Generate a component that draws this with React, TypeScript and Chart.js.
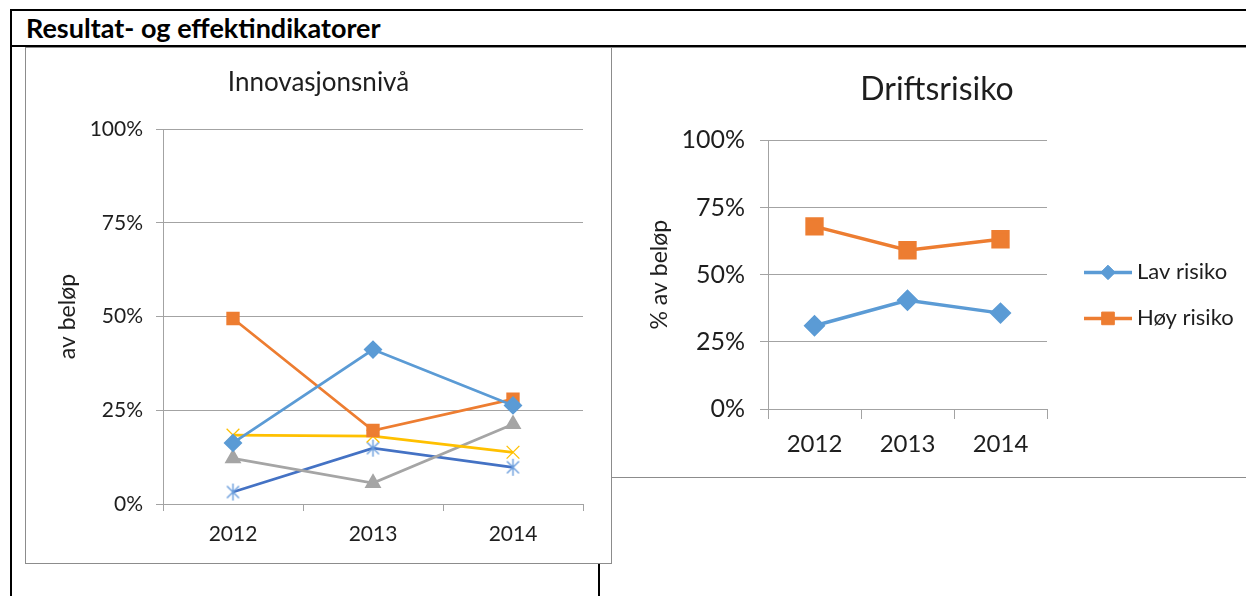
import React, { useEffect, useRef } from 'react';
import { Chart, registerables } from 'chart.js';
import { drawPoint } from 'chart.js/helpers';

Chart.register(...registerables);

const FONT = 'Lato, "Open Sans", "DejaVu Sans", sans-serif';
const TEXT = '#1e1e1e';
const GRID = '#a3a3a3';

// ---- data ----
const headerText = 'Resultat- og effektindikatorer';
const years = ['2012', '2013', '2014'];
const yMin = 0;
const yMax = 100;
const yStep = 25;

const innovTitle = 'Innovasjonsnivå';
const innovAxisTitle = 'av beløp';
const innovSeriesNames = ['Serie 1', 'Serie 2', 'Serie 3', 'Serie 4', 'Serie 5'];
const innovLightBlue = [16.3, 41.2, 26.3];
const innovOrange = [49.5, 19.6, 28.0];
const innovYellow = [18.4, 18.1, 13.8];
const innovGray = [12.2, 5.6, 21.3];
const innovDarkBlue = [3.2, 14.9, 9.8];

const riskTitle = 'Driftsrisiko';
const riskAxisTitle = '% av beløp';
const riskLabels = ['Lav risiko', 'Høy risiko'];
const lavRisiko = [31.0, 40.5, 35.7];
const hoyRisiko = [68.0, 59.1, 63.2];

const pct = (v: any) => v + '%';

function makeAsterisk(color: string, size: number, lw: number) {
  const c = document.createElement('canvas');
  c.width = size;
  c.height = size;
  const ctx = c.getContext('2d')!;
  ctx.strokeStyle = color;
  ctx.lineWidth = lw;
  const m = size / 2;
  const r = size / 2 - 1;
  const d = r * Math.SQRT1_2;
  ctx.beginPath();
  ctx.moveTo(m, m - r);
  ctx.lineTo(m, m + r);
  ctx.moveTo(m - d, m - d);
  ctx.lineTo(m + d, m + d);
  ctx.moveTo(m + d, m - d);
  ctx.lineTo(m - d, m + d);
  ctx.stroke();
  return c;
}

const sideLegend = {
  id: 'sideLegend',
  afterDraw(chart: any) {
    const { ctx, chartArea } = chart;
    const x0 = chartArea.right + 37;
    const len = 48;
    chart.data.datasets.forEach((ds: any, i: number) => {
      const y = chartArea.top + 132 + i * 46;
      ctx.save();
      ctx.strokeStyle = ds.borderColor;
      ctx.lineWidth = ds.borderWidth;
      ctx.beginPath();
      ctx.moveTo(x0, y);
      ctx.lineTo(x0 + len, y);
      ctx.stroke();
      ctx.fillStyle = ds.pointBackgroundColor;
      ctx.strokeStyle = ds.pointBorderColor;
      ctx.lineWidth = 1;
      drawPoint(ctx, { pointStyle: ds.pointStyle, radius: ds.pointRadius * 0.85, borderWidth: 1, rotation: 0 }, x0 + len / 2, y);
      ctx.fillStyle = TEXT;
      ctx.font = `22px ${FONT}`;
      ctx.textBaseline = 'middle';
      ctx.textAlign = 'left';
      ctx.fillText(ds.label, x0 + len + 5, y);
      ctx.restore();
    });
  },
};

function spacer(width: number) {
  return {
    type: 'linear',
    position: 'right',
    display: true,
    ticks: { display: false },
    grid: { display: false },
    border: { display: false },
    afterFit: (s: any) => { s.width = width; },
  };
}

function InnovChart() {
  const ref = useRef<HTMLCanvasElement>(null);
  useEffect(() => {
    const star = makeAsterisk('#6a9ddc', 19, 1.4);
    const chart = new Chart(ref.current!, {
      type: 'line',
      data: {
        labels: years,
        datasets: [
          { label: innovSeriesNames[0], data: innovLightBlue, borderColor: '#5B9BD5', backgroundColor: '#5B9BD5', pointBackgroundColor: '#5B9BD5', pointBorderColor: '#5B9BD5', borderWidth: 2.75, pointStyle: 'rectRot', pointRadius: 7.5, yAxisID: 'y' },
          { label: innovSeriesNames[1], data: innovOrange, borderColor: '#ED7D31', backgroundColor: '#ED7D31', pointBackgroundColor: '#ED7D31', pointBorderColor: '#ED7D31', borderWidth: 2.75, pointStyle: 'rect', pointRadius: 7.5, yAxisID: 'y' },
          { label: innovSeriesNames[3], data: innovYellow, borderColor: '#FFC000', backgroundColor: '#FFC000', pointBackgroundColor: '#FFC000', pointBorderColor: '#FFC000', borderWidth: 2.75, pointStyle: 'crossRot', pointRadius: 9, pointBorderWidth: 1.3, yAxisID: 'y' },
          { label: innovSeriesNames[2], data: innovGray, borderColor: '#A5A5A5', backgroundColor: '#A5A5A5', pointBackgroundColor: '#A5A5A5', pointBorderColor: '#A5A5A5', borderWidth: 2.75, pointStyle: 'triangle', pointRadius: 7, yAxisID: 'y' },
          { label: innovSeriesNames[4], data: innovDarkBlue, borderColor: '#4472C4', backgroundColor: '#4472C4', borderWidth: 2.75, pointStyle: star as any, yAxisID: 'y' },
        ],
      },
      options: {
        responsive: false,
        animation: false,
        layout: { padding: 0 },
        plugins: {
          legend: { display: false },
          tooltip: { enabled: false },
          title: {
            display: true,
            text: innovTitle,
            color: TEXT,
            font: { family: FONT, size: 26, weight: 'normal' },
            padding: { top: 21, bottom: 31 },
          },
        },
        scales: {
          x: {
            offset: true,
            grid: { offset: true, drawOnChartArea: false, drawTicks: true, tickLength: 7, color: GRID },
            border: { display: true, color: GRID },
            ticks: { color: TEXT, font: { family: FONT, size: 21 }, padding: 11, maxRotation: 0 },
            afterFit: (s: any) => { s.height = 59; },
          },
          y: {
            min: yMin,
            max: yMax,
            ticks: { stepSize: yStep, callback: pct, color: TEXT, font: { family: FONT, size: 21 }, padding: 13 },
            grid: { color: GRID, tickLength: 7, drawTicks: true },
            border: { display: true, color: GRID },
            title: { display: true, text: innovAxisTitle, color: TEXT, font: { family: FONT, size: 23 }, padding: { top: 29, bottom: 0 } },
            afterFit: (s: any) => { s.width = 138; },
          },
          yR: spacer(29),
        },
      } as any,
    });
    return () => chart.destroy();
  }, []);
  return <canvas ref={ref} width={587} height={517} style={{ position: 'absolute', left: 25, top: 46, width: 587, height: 517 }} />;
}

function RiskChart() {
  const ref = useRef<HTMLCanvasElement>(null);
  useEffect(() => {
    const chart = new Chart(ref.current!, {
      type: 'line',
      data: {
        labels: years,
        datasets: [
          { label: riskLabels[0], data: lavRisiko, borderColor: '#5B9BD5', backgroundColor: '#5B9BD5', pointBackgroundColor: '#5B9BD5', pointBorderColor: '#5B9BD5', borderWidth: 3.5, pointStyle: 'rectRot', pointRadius: 8.5, yAxisID: 'y' },
          { label: riskLabels[1], data: hoyRisiko, borderColor: '#ED7D31', backgroundColor: '#ED7D31', pointBackgroundColor: '#ED7D31', pointBorderColor: '#ED7D31', borderWidth: 3.5, pointStyle: 'rect', pointRadius: 10.5, yAxisID: 'y' },
        ],
      },
      options: {
        responsive: false,
        animation: false,
        layout: { padding: 0 },
        plugins: {
          legend: { display: false },
          tooltip: { enabled: false },
          title: {
            display: true,
            text: riskTitle,
            color: TEXT,
            font: { family: FONT, size: 32, weight: 'normal' },
            padding: { top: 24, bottom: 32 },
          },
        },
        scales: {
          x: {
            offset: true,
            grid: { offset: true, drawOnChartArea: false, drawTicks: true, tickLength: 10, color: GRID },
            border: { display: true, color: GRID },
            ticks: { color: TEXT, font: { family: FONT, size: 24 }, padding: 11, maxRotation: 0 },
            afterFit: (s: any) => { s.height = 68; },
          },
          y: {
            min: yMin,
            max: yMax,
            ticks: { stepSize: yStep, callback: pct, color: TEXT, font: { family: FONT, size: 25 }, padding: 15 },
            grid: { color: GRID, tickLength: 8, drawTicks: true },
            border: { display: true, color: GRID },
            title: { display: true, text: riskAxisTitle, color: TEXT, font: { family: FONT, size: 23 }, padding: { top: 34, bottom: 0 } },
            afterFit: (s: any) => { s.width = 156; },
          },
          yR: spacer(215),
        },
      } as any,
      plugins: [sideLegend],
    });
    return () => chart.destroy();
  }, []);
  return <canvas ref={ref} width={650} height={431} style={{ position: 'absolute', left: 612, top: 46, width: 650, height: 431 }} />;
}

export default function App() {
  const black = '#000';
  return (
    <div style={{ position: 'fixed', left: 0, top: 0, width: 1246, height: 596, overflow: 'hidden', background: '#fff', fontFamily: FONT }}>
      <div style={{ position: 'absolute', left: 10, top: 9, width: 1236, height: 2, background: black }} />
      <div style={{ position: 'absolute', left: 10, top: 9, width: 2, height: 587, background: black }} />
      <div style={{ position: 'absolute', left: 10, top: 45, width: 1236, height: 2, background: black }} />
      <div style={{ position: 'absolute', left: 598, top: 45, width: 2, height: 551, background: black }} />
      <div style={{ position: 'absolute', left: 26, top: 13, lineHeight: '30px', fontSize: 27, fontWeight: 700, color: '#000', whiteSpace: 'nowrap' }}>{headerText}</div>
      <div style={{ position: 'absolute', left: 25, top: 47, width: 587, height: 517, boxSizing: 'border-box', border: '1px solid #8c8c8c', background: '#fff' }} />
      <div style={{ position: 'absolute', left: 611, top: 47, width: 700, height: 431, boxSizing: 'border-box', border: '1px solid #8c8c8c', background: '#fff' }} />
      <InnovChart />
      <RiskChart />
    </div>
  );
}
